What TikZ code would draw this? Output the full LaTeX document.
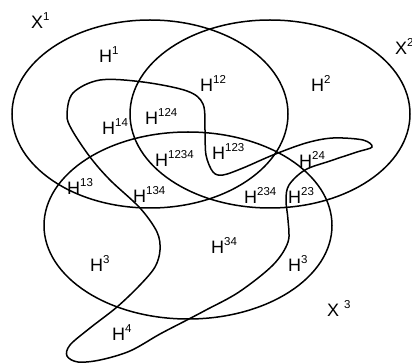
\documentclass[tikz,border=0pt]{standalone}
\usepackage{fontspec}
\setmainfont{Liberation Sans}
\usepackage{tikz}
\usetikzlibrary{shapes.geometric}
\newcommand{\hsup}[1]{\raisebox{8pt}{\fontsize{11.5}{12}\selectfont #1}}
\tikzset{
  setline/.style={line width=1.5pt, color=black},
  setbox/.style={
    ellipse, draw, setline, inner sep=0pt, outer sep=0pt
  },
  lbl/.style={anchor=base west, inner sep=0pt, font=\fontsize{18}{20}\selectfont}
}

\begin{document}
\begin{tikzpicture}[x=1pt, y=-1pt]

  % Frame
  \useasboundingbox (0,0) rectangle (412,363);

  % The three sets
  \node[setbox, minimum width=276pt, minimum height=188pt] (x1) at (150,114) {};
  \node[setbox, minimum width=280pt, minimum height=188pt] (x2) at (270,114) {};
  \node[setbox, minimum width=288pt, minimum height=187pt] (x3) at (188,225.5) {};

  % Free-form region
  \draw[setline] plot[smooth cycle, tension=0.55] coordinates {
    (67,115) (73,93) (100,80) (143,82) (187,91) (203,104) (205,130)
    (206,155) (213,172) (223,175) (243,168) (273,155) (306,143)
    (333,138) (363,140) (372,147) (357,152) (330,161) (305,170)
    (289,185) (286,200) (288,220) (288,242) (273,265) (239,292)
    (206,310) (187,320) (160,334) (130,351) (100,360) (78,362)
    (67,356) (70,345) (90,328) (117,307) (140,285) (155,267)
    (160,250) (157,232) (140,208) (110,180) (90,157) (72,130)
  };

  % Set names
  \node[lbl] (lx1) at (31,29) {X\hsup{1}};
  \node[lbl] (lx2) at (395,55) {X\hsup{2}};
  \node[lbl] (lx3) at (327,316) {X \hsup{3}};

  % Region labels
  \node[lbl] (h1) at (99,63) {H\hsup{1}};
  \node[lbl] (h12) at (200,92) {H\hsup{12}};
  \node[lbl] (h2) at (311,92) {H\hsup{2}};
  \node[lbl] (h14) at (102,135) {H\hsup{14}};
  \node[lbl] (h124) at (145,125) {H\hsup{124}};
  \node[lbl] (h1234) at (155,167) {H\hsup{1234}};
  \node[lbl] (h123) at (212,160) {H\hsup{123}};
  \node[lbl] (h24) at (299,168) {H\hsup{24}};
  \node[lbl] (h13) at (67,195) {H\hsup{13}};
  \node[lbl] (h134) at (133,203) {H\hsup{134}};
  \node[lbl] (h234) at (244,204) {H\hsup{234}};
  \node[lbl] (h23) at (288,204) {H\hsup{23}};
  \node[lbl] (h34) at (211,254) {H\hsup{34}};
  \node[lbl] (h3a) at (90,272) {H\hsup{3}};
  \node[lbl] (h3b) at (288,272) {H\hsup{3}};
  \node[lbl] (h4) at (112,340) {H\hsup{4}};

\end{tikzpicture}
\end{document}
